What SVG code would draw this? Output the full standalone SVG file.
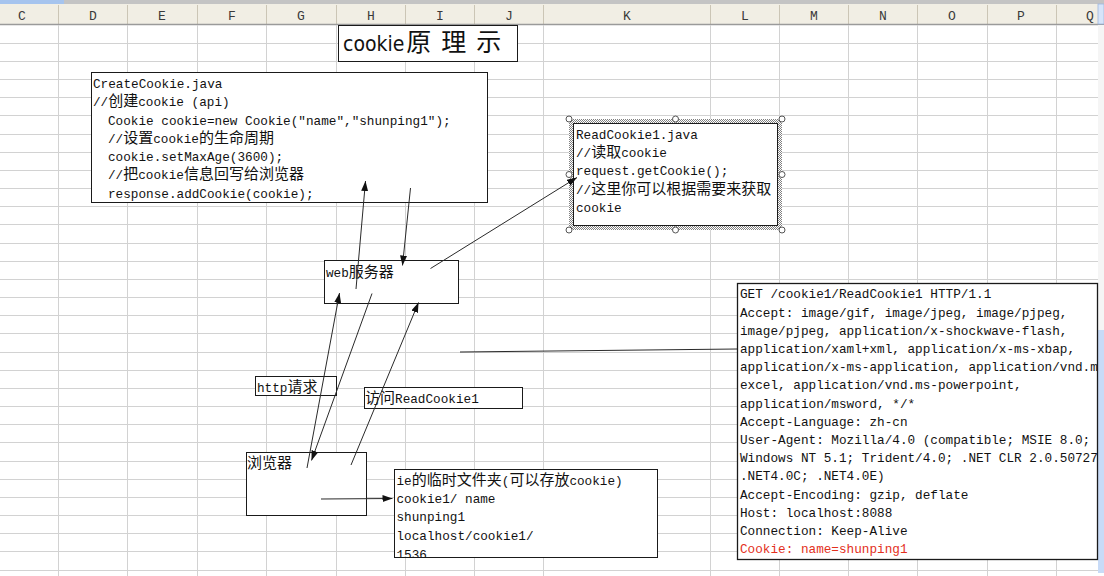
<svg xmlns="http://www.w3.org/2000/svg" width="1104" height="576" viewBox="0 0 1104 576">
<style>
.g{stroke:#d2d2d2;stroke-width:1;fill:none}
.hs{stroke:#cbc5b5;stroke-width:1;fill:none}
.box{fill:#fff;stroke:#1a1a1a;stroke-width:1}
.t{font-family:"Liberation Mono","Noto Sans CJK SC",monospace;font-size:12.7px;fill:#111}
.c{font-family:"Noto Sans CJK SC",sans-serif;font-size:15px}
.hd{font-family:"Liberation Mono",monospace;font-size:13px;fill:#3a3a3a;text-anchor:middle}
.cn{stroke:#2a2a2a;stroke-width:1;fill:none}
.ar{marker-end:url(#ah)}
.hdl{fill:#fff;stroke:#555;stroke-width:1}
</style>
<defs>
<marker id="ah" markerUnits="userSpaceOnUse" markerWidth="10" markerHeight="7" refX="10" refY="3.5" orient="auto">
<path d="M0,0 L10,3.5 L0,7 Z" fill="#111"/>
</marker>
<pattern id="hatch" width="2" height="2" patternUnits="userSpaceOnUse">
<rect width="2" height="2" fill="#fff"/>
<rect width="1" height="1" fill="#808080"/>
<rect x="1" y="1" width="1" height="1" fill="#808080"/>
</pattern>
<clipPath id="clipHttp"><rect x="737" y="283" width="360" height="276"/></clipPath>
<clipPath id="clipIe"><rect x="394" y="469" width="263" height="88"/></clipPath>
</defs>

<rect width="1104" height="576" fill="#fff"/>

<g id="sheet">
<rect x="0" y="0" width="1104" height="4" fill="#c4c4c4"/>
<rect x="0" y="0" width="64" height="4" fill="#a6c4ee"/>
<rect x="0" y="4" width="1104" height="21" fill="#f1eee4"/>
<path class="hs" d="M58.5,5V24 M127.5,5V24 M197.5,5V24 M266.5,5V24 M336.5,5V24 M405.5,5V24 M474.5,5V24 M543.5,5V24 M710.5,5V24 M779.5,5V24 M848.5,5V24 M917.5,5V24 M987.5,5V24 M1056.5,5V24"/>
<line x1="0" y1="24.5" x2="1104" y2="24.5" stroke="#9a9a9a" stroke-width="1.5"/>
<text class="hd" x="22" y="20">C</text>
<text class="hd" x="93" y="20">D</text>
<text class="hd" x="162" y="20">E</text>
<text class="hd" x="232" y="20">F</text>
<text class="hd" x="301" y="20">G</text>
<text class="hd" x="371" y="20">H</text>
<text class="hd" x="440" y="20">I</text>
<text class="hd" x="509" y="20">J</text>
<text class="hd" x="627" y="20">K</text>
<text class="hd" x="745" y="20">L</text>
<text class="hd" x="814" y="20">M</text>
<text class="hd" x="883" y="20">N</text>
<text class="hd" x="952" y="20">O</text>
<text class="hd" x="1021" y="20">P</text>
<text class="hd" x="1090" y="20">Q</text>
<path class="g" d="M58.5,25V576 M127.5,25V576 M197.5,25V576 M266.5,25V576 M336.5,25V576 M405.5,25V576 M474.5,25V576 M543.5,25V576 M710.5,25V576 M779.5,25V576 M848.5,25V576 M917.5,25V576 M987.5,25V576 M1056.5,25V576"/>
<path class="g" d="M0,43.5H1104 M0,61.5H1104 M0,79.5H1104 M0,97.5H1104 M0,115.5H1104 M0,134.5H1104 M0,152.5H1104 M0,170.5H1104 M0,188.5H1104 M0,206.5H1104 M0,224.5H1104 M0,243.5H1104 M0,261.5H1104 M0,279.5H1104 M0,297.5H1104 M0,315.5H1104 M0,333.5H1104 M0,352.5H1104 M0,370.5H1104 M0,388.5H1104 M0,406.5H1104 M0,424.5H1104 M0,442.5H1104 M0,461.5H1104 M0,479.5H1104 M0,497.5H1104 M0,515.5H1104 M0,533.5H1104 M0,551.5H1104 M0,570.5H1104"/>
<rect x="1098" y="4" width="6" height="20" fill="#d6e4f9" stroke="#9fb6de" stroke-width="0.8"/>
<rect x="1098" y="25" width="6" height="305" fill="#f5f5f5"/>
<rect x="1098" y="330" width="6" height="243" fill="#c8dbf7"/>
</g>

<g id="title">
<rect class="box" x="338.5" y="25.5" width="179" height="36"/>
<text x="343" y="51" font-family="DejaVu Sans" font-stretch="condensed" font-size="21" fill="#111">cookie<tspan font-family="Noto Sans CJK SC" font-stretch="normal" font-size="25" dx="2" letter-spacing="10">原理示</tspan></text>
</g>

<g id="createCookie">
<rect class="box" x="91.5" y="72.5" width="396" height="130"/>
<text class="t" x="93" y="88">CreateCookie.java</text>
<text class="t" x="93" y="106.3">//<tspan class="c">创建</tspan>cookie (api)</text>
<text class="t" x="108" y="124.5">Cookie cookie=new Cookie("name","shunping1");</text>
<text class="t" x="108" y="142.8">//<tspan class="c">设置</tspan>cookie<tspan class="c">的生命周期</tspan></text>
<text class="t" x="108" y="161">cookie.setMaxAge(3600);</text>
<text class="t" x="108" y="179.3">//<tspan class="c">把</tspan>cookie<tspan class="c">信息回写给浏览器</tspan></text>
<text class="t" x="108" y="197.5">response.addCookie(cookie);</text>
</g>

<g id="readCookie">
<path d="M569,119H782V230H569Z M573,123V226H778V123Z" fill="url(#hatch)" fill-rule="evenodd"/>
<rect class="box" x="573.5" y="123.5" width="204" height="102"/>
<circle class="hdl" cx="569" cy="119" r="3"/>
<circle class="hdl" cx="675.5" cy="119" r="3"/>
<circle class="hdl" cx="782" cy="119" r="3"/>
<circle class="hdl" cx="569" cy="174.5" r="3"/>
<circle class="hdl" cx="782" cy="174.5" r="3"/>
<circle class="hdl" cx="569" cy="230" r="3"/>
<circle class="hdl" cx="675.5" cy="230" r="3"/>
<circle class="hdl" cx="782" cy="230" r="3"/>
<text class="t" x="576" y="139">ReadCookie1.java</text>
<text class="t" x="576" y="157.2">//<tspan class="c">读取</tspan>cookie</text>
<text class="t" x="576" y="175.4">request.getCookie();</text>
<text class="t" x="576" y="193.6">//<tspan class="c">这里你可以根据需要来获取</tspan></text>
<text class="t" x="576" y="211.8">cookie</text>
</g>

<g id="webServer">
<rect class="box" x="324.5" y="260.5" width="134" height="43"/>
<text class="t" x="326" y="276.5">web<tspan class="c">服务器</tspan></text>
</g>

<g id="httpLabel">
<rect class="box" x="255.5" y="376.5" width="81" height="19"/>
<text class="t" x="257" y="391.5">http<tspan class="c">请求</tspan></text>
</g>

<g id="visitLabel">
<rect class="box" x="364.5" y="387.5" width="158" height="21"/>
<text class="t" x="365" y="403"><tspan class="c">访问</tspan>ReadCookie1</text>
</g>

<g id="browser">
<rect class="box" x="246.5" y="452.5" width="120" height="63"/>
<text class="t" x="247" y="468.3"><tspan class="c">浏览器</tspan></text>
</g>

<g id="ieFolder">
<rect class="box" x="394.5" y="469.5" width="263" height="88"/>
<g clip-path="url(#clipIe)">
<text class="t" x="396.5" y="485">ie<tspan class="c">的临时文件夹</tspan>(<tspan class="c">可以存放</tspan>cookie)</text>
<text class="t" x="396.5" y="503.2">cookie1/ name</text>
<text class="t" x="396.5" y="521.4">shunping1</text>
<text class="t" x="396.5" y="539.6">localhost/cookie1/</text>
<text class="t" x="396.5" y="558.5">1536</text>
</g>
</g>

<g id="httpRequest">
<rect x="737.5" y="283.5" width="360" height="276" fill="#fff" stroke="#1a1a1a" stroke-width="1.3"/>
<g clip-path="url(#clipHttp)">
<text class="t" x="740" y="298.3">GET /cookie1/ReadCookie1 HTTP/1.1</text>
<text class="t" x="740" y="316.5">Accept: image/gif, image/jpeg, image/pjpeg,</text>
<text class="t" x="740" y="334.7">image/pjpeg, application/x-shockwave-flash,</text>
<text class="t" x="740" y="352.9">application/xaml+xml, application/x-ms-xbap,</text>
<text class="t" x="740" y="371.1">application/x-ms-application, application/vnd.m</text>
<text class="t" x="740" y="389.4">excel, application/vnd.ms-powerpoint,</text>
<text class="t" x="740" y="407.6">application/msword, */*</text>
<text class="t" x="740" y="425.8">Accept-Language: zh-cn</text>
<text class="t" x="740" y="444">User-Agent: Mozilla/4.0 (compatible; MSIE 8.0;</text>
<text class="t" x="740" y="462.2">Windows NT 5.1; Trident/4.0; .NET CLR 2.0.50727</text>
<text class="t" x="740" y="480.4">.NET4.0C; .NET4.0E)</text>
<text class="t" x="740" y="498.6">Accept-Encoding: gzip, deflate</text>
<text class="t" x="740" y="516.8">Host: localhost:8088</text>
<text class="t" x="740" y="535">Connection: Keep-Alive</text>
<text class="t" x="740" y="553.3" style="fill:#e3301c">Cookie: name=shunping1</text>
</g>
</g>

<g id="connectors">
<path class="cn ar" d="M356,289 L365.5,181"/>
<path class="cn ar" d="M410.5,188 L402.5,265.5"/>
<path class="cn ar" d="M430.5,268.5 L577,177.5"/>
<path class="cn ar" d="M307,468 L339.5,293"/>
<path class="cn ar" d="M372,293.5 L311.5,460.5"/>
<path class="cn ar" d="M351,465 L418.5,302.5"/>
<path class="cn ar" d="M321,499 L392.5,498.5"/>
<path class="cn" d="M460,352 L737,349"/>
</g>
</svg>
